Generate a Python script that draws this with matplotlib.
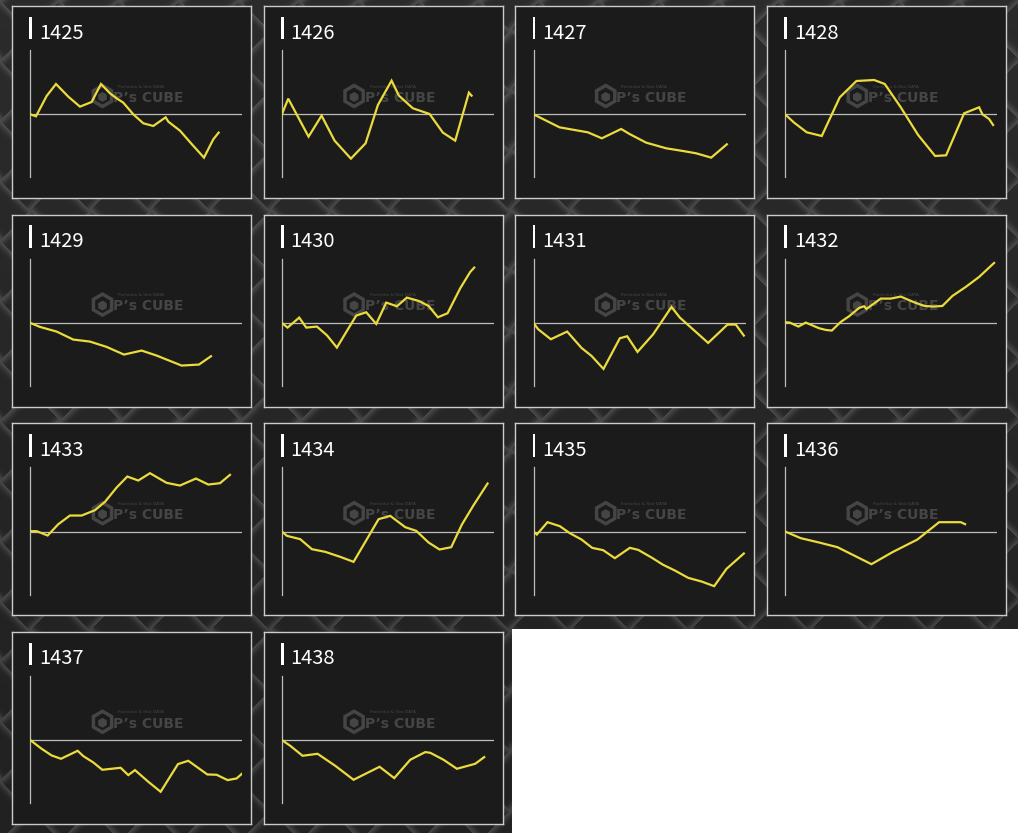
import numpy as np
import matplotlib

matplotlib.use("Agg")
import matplotlib.pyplot as plt
from matplotlib.patches import Rectangle, RegularPolygon

# games played (x) and medal difference (y), one pair of lists per machine
games_1425 = [0, 170, 490, 770, 1140, 1490, 1840, 2120, 2390, 2590, 2790, 3090, 3390, 3690, 4060, 4140, 4490, 4840, 5210, 5490, 5650]
diff_1425 = [0, -120, 1100, 1820, 1060, 460, 740, 1820, 1260, 960, 700, 0, -540, -700, -180, -440, -980, -1780, -2600, -1500, -1100]

games_1426 = [0, 190, 800, 1190, 1580, 2070, 2510, 2880, 3290, 3510, 3930, 4430, 4830, 5200, 5610, 5690]
diff_1426 = [0, 940, -1340, -80, -1580, -2660, -1740, 560, 2020, 1120, 360, 20, -1100, -1580, 1300, 1120]

games_1427 = [0, 780, 1230, 1630, 2050, 2630, 2880, 3380, 3980, 4480, 4880, 5330, 5800]
diff_1427 = [0, -780, -940, -1080, -1440, -880, -1180, -1700, -2040, -2200, -2340, -2600, -1800]

games_1428 = [0, 270, 650, 1100, 1640, 2140, 2670, 2990, 3470, 3990, 4500, 4830, 5370, 5820, 5920, 6120, 6240]
diff_1428 = [0, -500, -1080, -1300, 1020, 2000, 2060, 1820, 420, -1240, -2500, -2460, 60, 420, 0, -280, -640]

games_1429 = [0, 290, 790, 1290, 1790, 2290, 2810, 3340, 3790, 4540, 5060, 5420]
diff_1429 = [0, -240, -520, -1000, -1120, -1440, -1900, -1660, -1960, -2560, -2500, -2000]

games_1430 = [0, 170, 520, 730, 1050, 1350, 1650, 1950, 2230, 2530, 2830, 3130, 3450, 3750, 4100, 4400, 4680, 4970, 5350, 5650, 5770]
diff_1430 = [0, -280, 320, -280, -220, -740, -1480, -480, 440, 640, -60, 1220, 1000, 1520, 1320, 1020, 340, 580, 2080, 3060, 3320]

games_1431 = [0, 140, 520, 1010, 1440, 1740, 2100, 2590, 2810, 3120, 3590, 4140, 4390, 5240, 5820, 6070, 6310]
diff_1431 = [0, -380, -980, -520, -1500, -1980, -2760, -920, -800, -1740, -680, 960, 320, -1200, -100, -100, -760]

games_1432 = [0, 140, 400, 620, 1020, 1220, 1400, 1670, 1920, 2220, 2370, 2440, 2870, 3170, 3470, 3870, 4170, 4470, 4720, 5020, 5420, 5820, 6270]
diff_1432 = [40, 20, -220, 20, -320, -420, -460, 60, 400, 900, 1000, 840, 1460, 1460, 1580, 1240, 1020, 980, 1020, 1620, 2160, 2760, 3600]

games_1433 = [0, 190, 520, 840, 1190, 1540, 1940, 2240, 2590, 2910, 3240, 3590, 4090, 4490, 4970, 5340, 5690, 5990]
diff_1433 = [20, 20, -240, 440, 960, 960, 1280, 1780, 2640, 3300, 3060, 3500, 2920, 2760, 3180, 2820, 2900, 3400]

games_1434 = [0, 150, 550, 900, 1300, 1750, 2150, 2550, 2900, 3250, 3700, 4030, 4400, 4730, 5080, 5400, 5750, 6170]
diff_1434 = [0, -260, -460, -1060, -1220, -1520, -1820, -460, 740, 940, 260, 40, -660, -1080, -940, 420, 1580, 2880]

games_1435 = [0, 100, 420, 790, 1090, 1440, 1760, 2090, 2440, 2890, 3140, 3540, 3890, 4240, 4640, 5040, 5420, 5790, 6310]
diff_1435 = [0, -180, 560, 320, -100, -480, -980, -1120, -1600, -980, -1100, -1560, -2000, -2340, -2780, -3000, -3280, -2240, -1320]

games_1436 = [0, 470, 1020, 1570, 2590, 3220, 3970, 4620, 5270, 5400]
diff_1436 = [0, -400, -660, -940, -1960, -1240, -480, 560, 560, 440]

games_1437 = [0, 340, 640, 920, 1420, 1590, 1890, 2160, 2710, 2940, 3140, 3540, 3910, 4430, 4740, 5310, 5590, 5920, 6190, 6360]
diff_1437 = [0, -520, -920, -1120, -640, -960, -1340, -1780, -1660, -2100, -1800, -2500, -3100, -1440, -1240, -2060, -2080, -2400, -2300, -2000]

games_1438 = [0, 250, 620, 1070, 1600, 2150, 2550, 2930, 3370, 3850, 4300, 4450, 4850, 5250, 5800, 6070]
diff_1438 = [0, -340, -940, -820, -1540, -2380, -1980, -1600, -2280, -1180, -720, -760, -1180, -1720, -1420, -1020]

machines = [
    ("1425", games_1425, diff_1425), ("1426", games_1426, diff_1426),
    ("1427", games_1427, diff_1427), ("1428", games_1428, diff_1428),
    ("1429", games_1429, diff_1429), ("1430", games_1430, diff_1430),
    ("1431", games_1431, diff_1431), ("1432", games_1432, diff_1432),
    ("1433", games_1433, diff_1433), ("1434", games_1434, diff_1434),
    ("1435", games_1435, diff_1435), ("1436", games_1436, diff_1436),
    ("1437", games_1437, diff_1437), ("1438", games_1438, diff_1438),
]

W, H = 1018, 833
PANEL_W, PANEL_H = 239, 192
PANEL_BG = "#1b1b1b"
LINE_COLOR = "#ecdb3c"
AXIS_COLOR = "#bdbdbd"
MARK_COLOR = "#454545"

fig = plt.figure(figsize=(W / 100, H / 100), dpi=100)

# tread plate backdrop
bg = fig.add_axes([0, 0, 1, 1])
bg.axis("off")
yy, xx = np.mgrid[0:H, 0:W].astype(float)
period = 60.0
fu = ((xx + yy) / period) % 1.0
fv = ((xx - yy) / period) % 1.0
du = np.minimum(fu, 1 - fu) * period / np.sqrt(2)
dv = np.minimum(fv, 1 - fv) * period / np.sqrt(2)
checker = (np.floor((xx + yy) / period) + np.floor((xx - yy) / period)) % 2
ridge = np.where(checker == 0, np.exp(-(du / 4.5) ** 2), np.exp(-(dv / 4.5) ** 2))
tex = 0.13 + 0.13 * ridge + 0.04 * (1 - yy / H)
img = np.dstack([tex, tex, tex * 1.02])
img[629:, 512:] = 1.0
bg.imshow(np.clip(img, 0, 1), extent=[0, W, H, 0], aspect="auto", interpolation="nearest")
bg.set_xlim(0, W)
bg.set_ylim(H, 0)

for i, (label, games, diff) in enumerate(machines):
    r, c = divmod(i, 4)
    px = 12 + c * 251.6
    py = 6 + r * 208.6

    frame = fig.add_axes([px / W, 1 - (py + PANEL_H) / H, PANEL_W / W, PANEL_H / H])
    frame.set_xlim(0, PANEL_W)
    frame.set_ylim(PANEL_H, 0)
    frame.set_facecolor(PANEL_BG)
    frame.set_xticks([])
    frame.set_yticks([])
    for sp in frame.spines.values():
        sp.set_color("#cccccc")
        sp.set_linewidth(1.0)

    # title with white marker bar
    frame.add_patch(Rectangle((17.3, 10.7), 2.8, 22.6, color="white", lw=0))
    frame.text(27.0, 32.6, label, color="white", fontsize=14.5, va="baseline",
               family=["Noto Sans CJK JP", "DejaVu Sans"])

    # watermark
    frame.add_patch(RegularPolygon((90.5, 90), 6, radius=12.5, color=MARK_COLOR, lw=0))
    frame.add_patch(RegularPolygon((90.5, 90), 6, radius=8.5, color=PANEL_BG, lw=0))
    frame.add_patch(RegularPolygon((90.5, 91), 6, radius=5.0, color=MARK_COLOR, lw=0))
    frame.text(101, 95.7, "P\u2019s CUBE", color=MARK_COLOR, fontsize=10,
               fontweight="bold", va="baseline", family="DejaVu Sans")
    frame.text(106, 81.5, "Pachinko & Slot DATA", color=MARK_COLOR, fontsize=3.2,
               va="baseline", family="DejaVu Sans")

    ax = fig.add_axes([(px + 18.3) / W, 1 - (py + 171.3) / H, 212 / W, 127.3 / H])
    ax.patch.set_alpha(0)
    ax.set_xlim(0, 6360)
    ax.set_ylim(-3780, 3860)
    ax.set_xticks([])
    ax.set_yticks([])
    for name in ("top", "right", "bottom"):
        ax.spines[name].set_visible(False)
    ax.spines["left"].set_color(AXIS_COLOR)
    ax.spines["left"].set_linewidth(0.9)
    ax.axhline(0, color=AXIS_COLOR, lw=0.9, zorder=1)
    ax.plot(games, diff, color=LINE_COLOR, lw=1.6, solid_joinstyle="miter", zorder=3)

fig.savefig("out.png", dpi=100)
